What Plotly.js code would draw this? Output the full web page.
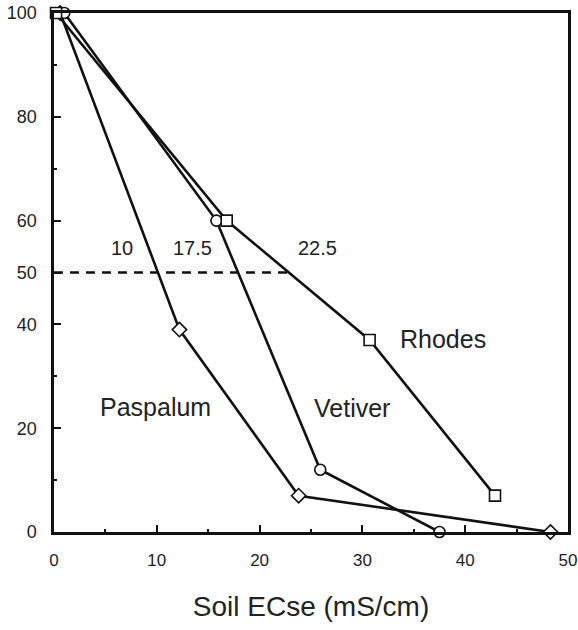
<!DOCTYPE html>
<html>
<head>
<meta charset="utf-8">
<script src="https://cdn.plot.ly/plotly-3.0.1.min.js"></script>
<style>html,body{margin:0;padding:0;background:#fff;}#chart{width:578px;height:630px;}</style>
</head>
<body>
<div id="chart"></div>
<script>
// Data
const rhodesX = [0.2, 16.8, 30.7, 42.9];
const rhodesY = [100, 60, 37, 7];
const vetiverX = [1.0, 15.8, 25.9, 37.5];
const vetiverY = [100, 60, 12, 0];
const paspalumX = [0.6, 12.2, 23.8, 48.3];
const paspalumY = [100, 39, 7, 0];
const refLineX = [0, 22.8];
const refLineY = [50, 50];
const xTickVals = [0, 10, 20, 30, 40, 50];
const yTickVals = [0, 20, 40, 50, 60, 80, 100];
const thresholdLabels = ['10', '17.5', '22.5'];
const thresholdX = [6.6, 13.5, 25.6];
const thresholdY = [54.7, 54.7, 54.7];
const seriesNames = ['Rhodes', 'Vetiver', 'Paspalum'];
const seriesLabelX = [37.8, 29.0, 9.9];
const seriesLabelY = [37.2, 23.9, 24.1];

const FONT = 'Liberation Sans, Arial, Helvetica, sans-serif';

function series(x, y, sym, size) {
  return {
    x: x, y: y, type: 'scatter', mode: 'lines+markers',
    line: {color: '#111', width: 2.6},
    marker: {symbol: sym, size: size, color: '#fff', line: {color: '#111', width: 1.6}},
    hoverinfo: 'skip', showlegend: false, cliponaxis: false
  };
}

const data = [
  {x: refLineX, y: refLineY, type: 'scatter', mode: 'lines',
   line: {color: '#111', width: 2.6, dash: '9px,7px'}, showlegend: false, hoverinfo: 'skip'},
  series(paspalumX, paspalumY, 'diamond', 11),
  series(vetiverX, vetiverY, 'circle', 11),
  series(rhodesX, rhodesY, 'square', 11)
];

const annotations = [];
thresholdLabels.forEach((t, i) => annotations.push({
  x: thresholdX[i], y: thresholdY[i], text: t, showarrow: false,
  font: {family: FONT, size: 20, color: '#222'}, xanchor: 'center', yanchor: 'middle'
}));
seriesNames.forEach((t, i) => annotations.push({
  x: seriesLabelX[i], y: seriesLabelY[i], text: t, showarrow: false,
  font: {family: FONT, size: 25, color: '#222'}, xanchor: 'center', yanchor: 'middle'
}));

const layout = {
  width: 578, height: 630,
  margin: {l: 54, r: 10, t: 13, b: 98},
  paper_bgcolor: '#fff', plot_bgcolor: '#fff',
  font: {family: FONT, color: '#222'},
  xaxis: {
    range: [0, 50], tickvals: xTickVals, ticktext: xTickVals.map(String),
    ticks: 'inside', ticklen: 7, tickwidth: 2, tickcolor: '#111',
    minor: {tickvals: [5, 15, 25, 35, 45], ticks: 'inside', ticklen: 3, tickwidth: 2, tickcolor: '#111'},
    showline: true, linecolor: '#111', linewidth: 2.6, mirror: true,
    showgrid: false, zeroline: false,
    tickfont: {family: FONT, size: 17, color: '#222'},
    ticklabelstandoff: 11,
    title: {text: 'Soil ECse (mS/cm)', font: {family: FONT, size: 28, color: '#222'}, standoff: 28}
  },
  yaxis: {
    range: [0, 100], tickvals: yTickVals, ticktext: yTickVals.map(String),
    ticks: 'inside', ticklen: 7, tickwidth: 2, tickcolor: '#111',
    minor: {tickvals: [10, 30, 70, 90], ticks: 'inside', ticklen: 3, tickwidth: 2, tickcolor: '#111'},
    showline: true, linecolor: '#111', linewidth: 2.6, mirror: true,
    showgrid: false, zeroline: false,
    tickfont: {family: FONT, size: 18, color: '#222'},
    ticklabelstandoff: 11
  },
  annotations: annotations
};

Plotly.newPlot('chart', data, layout, {staticPlot: true, displayModeBar: false});
</script>
</body>
</html>
